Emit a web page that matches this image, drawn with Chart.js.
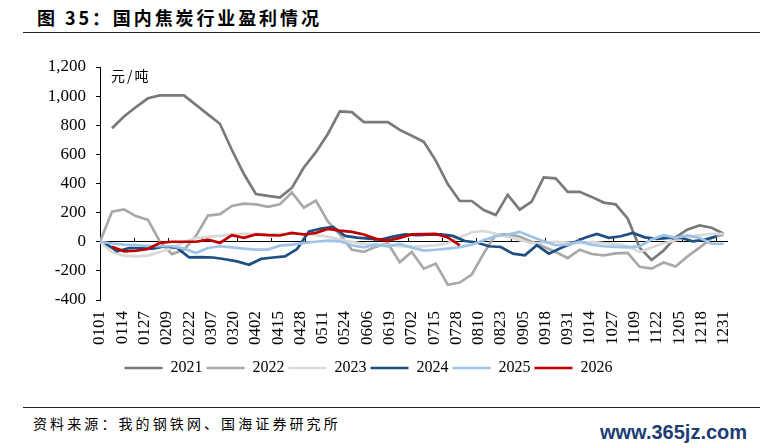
<!DOCTYPE html>
<html>
<head>
<meta charset="utf-8">
<script src="https://cdn.jsdelivr.net/npm/chart.js@4.4.1/dist/chart.umd.min.js"></script>
<style>
  body { margin: 0; width: 760px; height: 448px; position: relative; background: #fff; overflow: hidden; }
  .abs { position: absolute; white-space: nowrap; }
  #title { left: 37px; top: 7px; font: bold 18px "Noto Sans CJK SC"; letter-spacing: 2.9px; color: #000; line-height: 20px; }
  .rule { left: 23px; width: 737px; height: 0; border-top: 1px solid #222; }
  #unit { left: 111px; top: 67px; font: 14px "Noto Sans CJK SC"; letter-spacing: 2px; color: #000; line-height: 16px; }
  #source { left: 33px; top: 414px; font: 14px "Noto Sans CJK SC"; letter-spacing: 3.1px; color: #000; line-height: 18px; }
  #mark { left: 600px; top: 421px; font: bold 20px "Liberation Sans"; color: #1d3c74; line-height: 22px; }
  #wrap { position: absolute; left: 0; top: 0; width: 760px; height: 400px; }
</style>
</head>
<body>
<div id="title" class="abs">图 35：国内焦炭行业盈利情况</div>
<div class="abs rule" style="top:32px"></div>
<div id="wrap"><canvas id="chart"></canvas></div>
<div id="unit" class="abs">元/吨</div>
<div class="abs rule" style="top:407px"></div>
<div id="source" class="abs">资料来源：我的钢铁网、国海证券研究所</div>
<div id="mark" class="abs">www.365jz.com</div>
<script>
// x axis: day of year, labels every 13 days
const dateLabels = ['0101', '0114', '0127', '0209', '0222', '0307', '0320', '0402', '0415', '0428',
  '0511', '0524', '0606', '0619', '0702', '0715', '0728', '0810', '0823', '0905',
  '0918', '0931', '1014', '1027', '1109', '1122', '1205', '1218', '1231'];
const LABEL_STEP = 13;
const DAYS_PER_WEEK = 7;

const years = ['2021', '2022', '2023', '2024', '2025', '2026'];
const colors = ['#7a7a7a', '#a9a9a9', '#d9d9d9', '#1f4e82', '#9dc3e6', '#c00000'];
// first weekly point of each year, in days after 0101
const startDays = [0, 0, 0, 3, 0, 0];

// weekly profit, 元/吨
const profit2021 = [null, 780, 860, 925, 985, 1005, 1005, 1005, 940, 875, 810, 630, 465, 328, 315, 303,
  370, 510, 615, 740, 895, 890, 822, 822, 822, 768, 728, 686, 557, 396, 280, 280, 218, 183, 322,
  220, 276, 442, 435, 343, 343, 308, 269, 257, 160, -40, -125, -60, 30, 85, 112, 96, 55];
const profit2022 = [0, 206, 222, 176, 150, 0, -85, -55, 40, 180, 190, 246, 262, 257, 240, 257, 338,
  234, 282, 140, 50, -55, -70, -35, -10, -140, -70, -185, -150, -295, -280, -225, -80, 50, 50, 35,
  0, -35, -70, -112, -55, -84, -93, -80, -77, -172, -185, -142, -170, -100, -40, 25, 50];
const profit2023 = [0, -70, -95, -100, -95, -70, -45, 0, 25, 35, 40, 50, 55, 55, 50, 55, 55, 55, 45,
  35, 15, 0, -15, -20, -25, -30, -35, -30, -25, -10, 30, 65, 75, 55, 35, 10, -10, -5, 0, -5, -10,
  0, -10, -15, -30, -70, -40, -10, 10, 30, 45, 55, 55];
const profit2024 = [-10, -66, -43, -45, -47, -31, -43, -107, -105, -108, -120, -135, -158, -118, -108,
  -100, -50, 70, 90, 102, 40, 28, 22, 15, 35, 50, 45, 48, 50, 40, 5, -5, -31, -36, -82, -93, -24,
  -82, -43, -8, 27, 54, 27, 38, 61, 30, 20, 27, 27, 3, 15, 38];
const profit2025 = [0, -12, -20, -24, -28, -31, -31, -47, -77, -43, -31, -38, -47, -54, -54, -27, -20,
  -8, 0, 8, 3, -24, -38, -20, -31, -15, -40, -61, -55, -47, -38, -20, 10, 38, 50, 68, 35, 3, -24,
  -20, 0, -20, -31, -35, -38, -31, 15, 45, 27, 43, 27, -13, -15];
const profit2026 = [null, -35, -66, -62, -50, -8, 0, 0, 0, 15, -8, 45, 27, 50, 45, 43, 61, 50, 60, 88,
  77, 68, 50, 20, 8, 27, 50, 52, 54, 30, -25];

const series = [profit2021, profit2022, profit2023, profit2024, profit2025, profit2026];

const serif = 'Liberation Serif';

const datasets = series.map((values, k) => ({
  label: years[k],
  data: values.map((v, i) => ({ x: startDays[k] + i * DAYS_PER_WEEK, y: v })),
  borderColor: colors[k],
  backgroundColor: colors[k],
  borderWidth: 2.7,
  pointRadius: 0,
  tension: 0,
  order: series.length - k  // later years on top
}));

const ctx = document.getElementById('chart').getContext('2d');
new Chart(ctx, {
  type: 'line',
  data: { datasets },
  options: {
    responsive: true,
    maintainAspectRatio: false,
    animation: false,
    layout: { padding: { left: 10, right: 33, top: 67, bottom: 14 } },
    plugins: {
      tooltip: { enabled: false },
      legend: {
        position: 'bottom',
        labels: {
          usePointStyle: true,
          pointStyle: 'line',
          pointStyleWidth: 38,
          boxHeight: 16,
          padding: 4,
          color: '#000',
          font: { family: serif, size: 16 },
          sort: (a, b) => a.datasetIndex - b.datasetIndex
        }
      }
    },
    scales: {
      x: {
        type: 'linear',
        min: 0,
        max: 366,
        afterBuildTicks: (scale) => {
          scale.ticks = dateLabels.map((_, k) => ({ value: k * LABEL_STEP }));
        },
        afterFit: (scale) => { scale.height = 56; },
        ticks: {
          autoSkip: false,
          minRotation: 90,
          maxRotation: 90,
          padding: 11,
          color: '#000',
          font: { family: serif, size: 17 },
          callback: (value, index) => dateLabels[index]
        },
        grid: { display: false, drawTicks: false },
        border: { display: false }
      },
      // zero line with its small upward ticks
      x2: {
        type: 'linear',
        axis: 'x',
        min: 0,
        max: 366,
        position: { y: 0 },
        ticks: { display: false, stepSize: 20, includeBounds: false },
        grid: { drawOnChartArea: false, drawTicks: true, tickLength: -4, color: '#000', lineWidth: 1 },
        border: { color: '#000', width: 1 }
      },
      y: {
        min: -400,
        max: 1200,
        afterFit: (scale) => { scale.width = 90; },
        ticks: {
          stepSize: 200,
          padding: 10,
          color: '#000',
          font: { family: serif, size: 17 },
          callback: (v) => v.toLocaleString('en-US')
        },
        grid: { drawOnChartArea: false, tickLength: 4, color: '#000' },
        border: { color: '#000', width: 1 }
      }
    }
  }
});
</script>
</body>
</html>
